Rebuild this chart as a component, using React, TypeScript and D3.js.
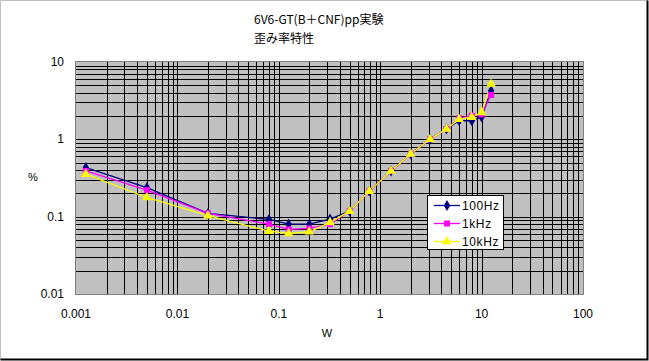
import React, { useEffect, useRef } from 'react';
import * as d3 from 'd3';

const titleLines = ['6V6-GT(B＋CNF)pp実験', '歪み率特性'];
const powerW = [0.00125, 0.005, 0.02, 0.08, 0.125, 0.2, 0.32, 0.5, 0.78, 1.28, 2.0, 3.1, 4.5, 6.0, 8.0, 10.0, 12.4];
const thd100Hz = [0.43, 0.237, 0.11, 0.092, 0.08, 0.08, 0.093, 0.118, 0.214, 0.39, 0.645, 1.0, 1.36, 1.74, 1.74, 1.95, 4.26];
const thd1kHz = [0.39, 0.22, 0.11, 0.08, 0.0686, 0.0706, 0.08, 0.118, 0.214, 0.39, 0.645, 1.0, 1.36, 1.87, 2.02, 2.1, 3.74];
const thd10kHz = [0.355, 0.177, 0.103, 0.065, 0.0608, 0.0638, 0.0843, 0.118, 0.214, 0.39, 0.645, 1.0, 1.36, 1.82, 1.93, 2.23, 5.19];
const seriesNames = ['100Hz', '1kHz', '10kHz'];
const xTicks = [0.001, 0.01, 0.1, 1, 10, 100];
const xTickLabels = ['0.001', '0.01', '0.1', '1', '10', '100'];
const yTicks = [0.01, 0.1, 1, 10];
const yTickLabels = ['0.01', '0.1', '1', '10'];

const W = 649;
const H = 361;
const FONT = '"Liberation Sans", Arial, sans-serif';
const JP_FONT = '"Noto Sans CJK JP", sans-serif';

const App: React.FC = () => {
  const svgRef = useRef<SVGSVGElement>(null);

  useEffect(() => {
    if (!svgRef.current) return;
    const svg = d3.select(svgRef.current);
    svg.selectAll('*').remove();

    const x = d3.scaleLog().domain([0.001, 100]).range([76, 583]);
    const y = d3.scaleLog().domain([0.01, 10]).range([294, 62]);
    const px = (v: number) => Math.round(x(v)) + 0.5;
    const py = (v: number) => Math.round(y(v)) + 0.5;

    // chart frame
    svg.append('rect').attr('width', W).attr('height', H).attr('fill', '#fff');
    svg.append('path')
      .attr('d', `M0.5,${H - 1} V0.5 H${W - 1}`)
      .attr('fill', 'none').attr('stroke', '#c0c0c0');
    svg.append('path')
      .attr('d', `M${W - 1.5},0.5 V${H - 1.5} H0.5`)
      .attr('fill', 'none').attr('stroke', '#000').attr('stroke-width', 2);

    // title
    titleLines.forEach((t, i) => {
      svg.append('text')
        .attr('x', 254).attr('y', 24 + i * 19)
        .attr('font-family', JP_FONT).attr('font-size', 12)
        .attr('fill', '#000').text(t);
    });

    // plot area
    svg.append('rect')
      .attr('x', 76).attr('y', 62).attr('width', 507).attr('height', 232)
      .attr('fill', '#c0c0c0');

    const grid = svg.append('g').attr('stroke', '#000').attr('stroke-width', 1)
      .attr('shape-rendering', 'crispEdges');
    const xGrid: number[] = [];
    for (let e = -3; e < 2; e++) for (let m = 1; m <= 9; m++) xGrid.push(m * Math.pow(10, e));
    xGrid.push(100);
    xGrid.slice(1, -1).forEach((v) => {
      grid.append('line').attr('x1', px(v)).attr('x2', px(v)).attr('y1', 62).attr('y2', 294);
    });
    const yGrid: number[] = [];
    for (let e = -2; e < 1; e++) for (let m = 1; m <= 9; m++) yGrid.push(m * Math.pow(10, e));
    yGrid.slice(1).forEach((v) => {
      grid.append('line').attr('x1', 76).attr('x2', 583).attr('y1', py(v)).attr('y2', py(v));
    });

    svg.append('rect')
      .attr('x', 75.5).attr('y', 61.5).attr('width', 508).attr('height', 233)
      .attr('fill', 'none').attr('stroke', '#808080');

    // tick labels
    xTicks.forEach((v, i) => {
      svg.append('text')
        .attr('x', x(v)).attr('y', 318)
        .attr('text-anchor', 'middle')
        .attr('font-family', FONT).attr('font-size', 12)
        .text(xTickLabels[i]);
    });
    yTicks.forEach((v, i) => {
      svg.append('text')
        .attr('x', 64).attr('y', y(v) + 4)
        .attr('text-anchor', 'end')
        .attr('font-family', FONT).attr('font-size', 12)
        .text(yTickLabels[i]);
    });
    svg.append('text').attr('x', 327).attr('y', 337).attr('text-anchor', 'middle')
      .attr('font-family', FONT).attr('font-size', 11).text('W');
    svg.append('text').attr('x', 33).attr('y', 181).attr('text-anchor', 'middle')
      .attr('font-family', FONT).attr('font-size', 11).text('%');

    // series
    const series = [
      { values: thd100Hz, color: '#000080', shape: d3.symbolDiamond, size: 36 },
      { values: thd1kHz, color: '#ff00ff', shape: d3.symbolSquare, size: 36 },
      { values: thd10kHz, color: '#ffff00', shape: d3.symbolTriangle, size: 40 }
    ];
    const line = d3.line<number>()
      .x((_, i) => x(powerW[i]))
      .y((d) => y(d));

    series.forEach((s) => {
      svg.append('path')
        .attr('d', line(s.values))
        .attr('fill', 'none').attr('stroke', s.color).attr('stroke-width', 1.3);
    });
    series.forEach((s) => {
      const sym = d3.symbol().type(s.shape).size(s.size);
      s.values.forEach((v, i) => {
        svg.append('path')
          .attr('d', sym())
          .attr('transform', `translate(${x(powerW[i])},${y(v)})`)
          .attr('fill', s.color);
      });
    });

    // legend
    const lg = svg.append('g').attr('transform', 'translate(427,195)');
    lg.append('rect').attr('x', 0.5).attr('y', 0.5).attr('width', 76).attr('height', 54)
      .attr('fill', '#fff').attr('stroke', '#000');
    series.forEach((s, i) => {
      const ly = 10 + i * 18;
      lg.append('line').attr('x1', 7).attr('x2', 33).attr('y1', ly + 0.5).attr('y2', ly + 0.5)
        .attr('stroke', s.color).attr('stroke-width', 1.3);
      lg.append('path')
        .attr('d', d3.symbol().type(s.shape).size(s.size)())
        .attr('transform', `translate(20,${ly + 0.5})`)
        .attr('fill', s.color);
      lg.append('text')
        .attr('x', 35).attr('y', ly + 4.5)
        .attr('font-family', FONT).attr('font-size', 12)
        .attr('letter-spacing', 0.6)
        .text(seriesNames[i]);
    });
  }, []);

  return (
    <svg
      ref={svgRef}
      width={W}
      height={H}
      style={{ position: 'absolute', left: 0, top: 0, display: 'block' }}
    />
  );
};

export default App;
